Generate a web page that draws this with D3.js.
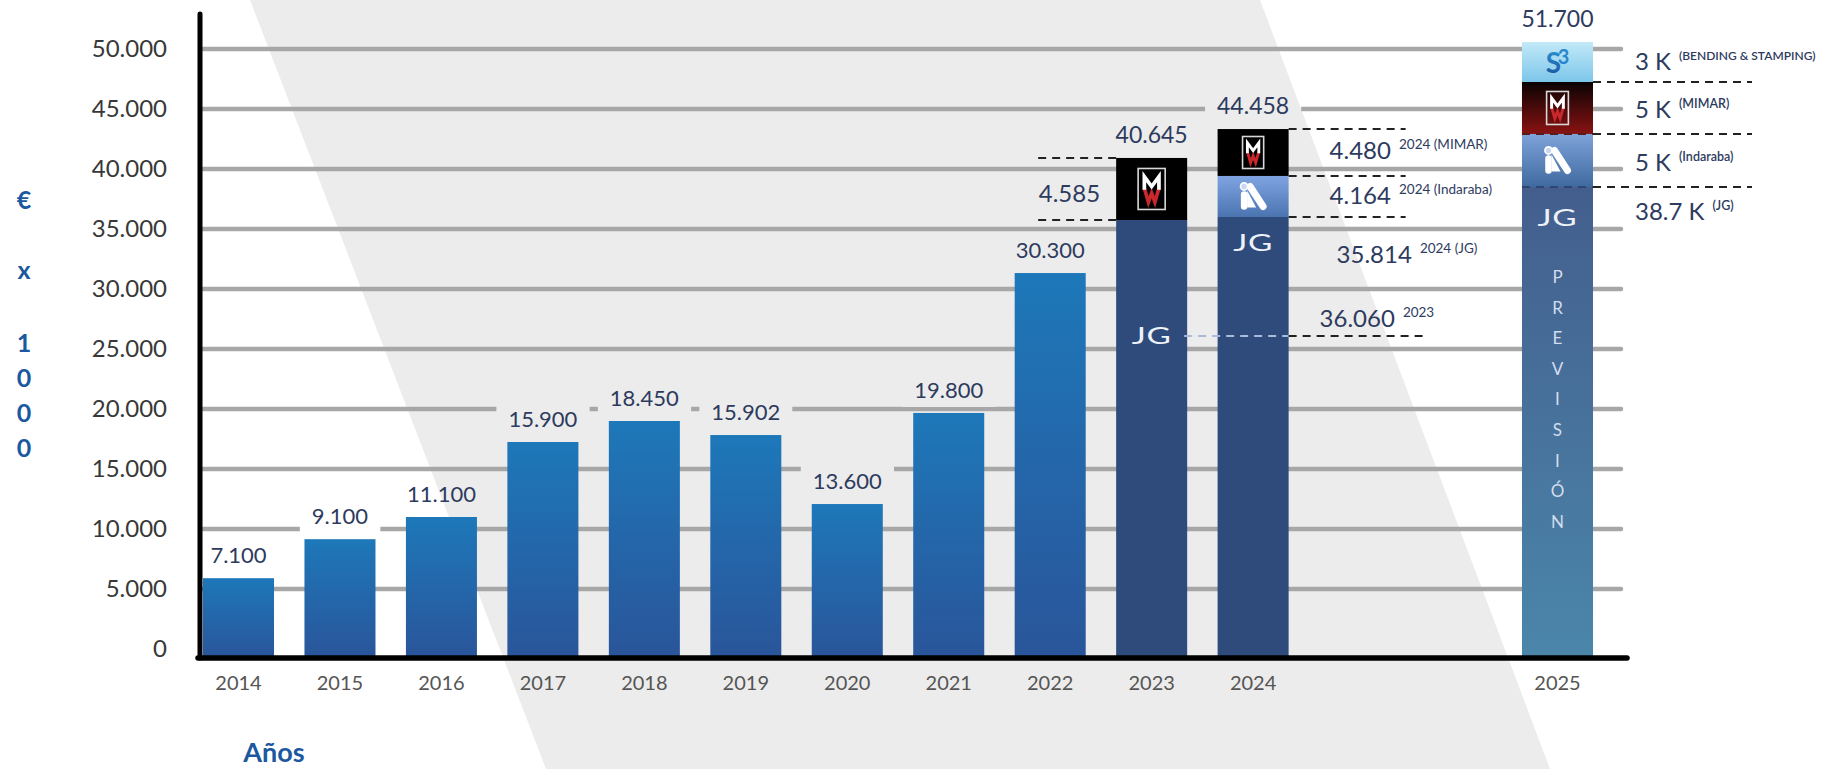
<!DOCTYPE html>
<html>
<head>
<meta charset="utf-8">
<script src="https://cdn.jsdelivr.net/npm/d3@7"></script>
<style>
  body { margin: 0; background: #fff; }
  text { font-family: "Lato", "Open Sans", sans-serif; }
</style>
</head>
<body>
<script>
// categories (two empty slots sit between 2024 and 2025)
const slots = ['2014', '2015', '2016', '2017', '2018', '2019', '2020', '2021', '2022', '2023', '2024', 'gap1', 'gap2', '2025'];
const yearTicks = ['2014', '2015', '2016', '2017', '2018', '2019', '2020', '2021', '2022', '2023', '2024', '2025'];
const yTicks = [0, 5000, 10000, 15000, 20000, 25000, 30000, 35000, 40000, 45000, 50000];

// single bars, heights as drawn in the picture, and their printed labels
const singleYears = ['2014', '2015', '2016', '2017', '2018', '2019', '2020', '2021', '2022'];
const singleValues = [5900, 9150, 11000, 17250, 19000, 17830, 12080, 19670, 31330];
const singleLabels = ['7.100', '9.100', '11.100', '15.900', '18.450', '15.902', '13.600', '19.800', '30.300'];

// stacked bars
const stackYears = ['2023', '2024', '2025'];
const jgValues = [35750, 36000, 38500];
const indarabaValues = [0, 3420, 4420];
const mimarValues = [5170, 3910, 4330];
const s3Values = [0, 0, 3330];
const stackLabels = ['40.645', '44.458', '51.700'];

// side notes
const note2023 = '4.585';
const notes2024 = ['4.480', '4.164', '35.814'];
const notes2024Sup = ['2024 (MIMAR)', '2024 (Indaraba)', '2024 (JG)'];
const noteJg2023 = '36.060';
const noteJg2023Sup = '2023';
const notes2025 = ['3 K', '5 K', '5 K', '38.7 K'];
const notes2025Sup = ['(BENDING & STAMPING)', '(MIMAR)', '(Indaraba)', '(JG)'];

const W = 1835, H = 769;
const axisY = 658, axisX = 200, gridEnd = 1621;
const navy = '#2d3b5e';

const svg = d3.select('body').append('svg').attr('width', W).attr('height', H);
const defs = svg.append('defs');

function vGrad(id, top, bottom) {
    const g = defs.append('linearGradient').attr('id', id)
        .attr('x1', 0).attr('y1', 0).attr('x2', 0).attr('y2', 1);
    g.append('stop').attr('offset', '0%').attr('stop-color', top);
    g.append('stop').attr('offset', '100%').attr('stop-color', bottom);
}
vGrad('g-bar', '#1d78b9', '#2a559a');
vGrad('g-ind24', '#80a4e2', '#4a74b0');
vGrad('g-ind25', '#7ea3da', '#3f6a9f');
vGrad('g-mim25', '#0a0303', '#8a1212');
vGrad('g-s3', '#c2e9f8', '#7cc6ea');
vGrad('g-jg25', '#435e8d', '#4b86aa');
vGrad('g-s3logo', '#2a9ad8', '#1c4f9c');

const x = d3.scaleBand().domain(slots).range([203, 1593]).paddingInner(0.3).paddingOuter(0);
const y = d3.scaleLinear().domain([0, 50000]).range([649, 49]);
const bw = x.bandwidth();

const fmt = d3.formatLocale({ decimal: ',', thousands: '.', grouping: [3], currency: ['', '€'] }).format(',');

// diagonal grey band in the background
svg.append('polygon')
    .attr('points', '250,0 1260,0 1550,769 546,769')
    .attr('fill', '#ececec');

// gridlines (masked behind some labels)
const mask = defs.append('mask').attr('id', 'gridMask')
    .attr('maskUnits', 'userSpaceOnUse').attr('x', 0).attr('y', 0).attr('width', W).attr('height', H);
mask.append('rect').attr('width', W).attr('height', H).attr('fill', '#fff');

svg.append('g').attr('mask', 'url(#gridMask)')
    .selectAll('line').data(yTicks.filter(d => d > 0)).join('line')
    .attr('x1', axisX).attr('x2', gridEnd)
    .attr('y1', d => y(d)).attr('y2', d => y(d))
    .attr('stroke', '#a7a7a7').attr('stroke-width', 4.5).attr('stroke-linecap', 'round');

// y tick labels
const yAxis = svg.append('g').attr('transform', 'translate(176,0)')
    .call(d3.axisLeft(y).tickValues(yTicks).tickSize(0).tickPadding(9).tickFormat(fmt));
yAxis.select('.domain').remove();
yAxis.selectAll('text').attr('font-size', 24).attr('fill', '#383838')
    .style('font-family', '"Lato", "Open Sans", sans-serif');

// x tick labels
const xAxis = svg.append('g').attr('transform', `translate(0,${axisY + 10})`)
    .call(d3.axisBottom(x).tickValues(yearTicks).tickSize(0).tickPadding(8));
xAxis.select('.domain').remove();
xAxis.selectAll('text').attr('font-size', 20).attr('fill', '#555')
    .style('font-family', '"Lato", "Open Sans", sans-serif');

// single bars
const singles = singleYears.map((yr, i) => ({ year: yr, value: singleValues[i], label: singleLabels[i] }));
svg.append('g').selectAll('rect').data(singles).join('rect')
    .attr('x', d => x(d.year)).attr('y', d => y(d.value))
    .attr('width', bw).attr('height', d => axisY - y(d.value))
    .attr('fill', 'url(#g-bar)');

const cutLabels = [];
svg.append('g').selectAll('text').data(singles).join('text')
    .attr('x', d => x(d.year) + bw / 2).attr('y', d => y(d.value) - 15)
    .attr('text-anchor', 'middle').attr('font-size', 22).attr('fill', navy)
    .text(d => d.label)
    .each(function () { cutLabels.push(this); });

// stacked bars
const keys = ['jg', 'indaraba', 'mimar', 's3'];
const rows = stackYears.map((yr, i) => ({
    year: yr, jg: jgValues[i], indaraba: indarabaValues[i], mimar: mimarValues[i], s3: s3Values[i]
}));
const series = d3.stack().keys(keys)(rows);

const fills = {
    jg: { '2023': '#2f4b7c', '2024': '#2f4b7c', '2025': 'url(#g-jg25)' },
    indaraba: { '2024': 'url(#g-ind24)', '2025': 'url(#g-ind25)' },
    mimar: { '2023': '#000', '2024': '#000', '2025': 'url(#g-mim25)' },
    s3: { '2025': 'url(#g-s3)' }
};

const segs = [];
series.forEach(s => {
    s.forEach(d => {
        if (d[1] - d[0] <= 0) return;
        segs.push({ key: s.key, year: d.data.year, y0: d[0], y1: d[1] });
    });
});

const stackG = svg.append('g');
stackG.selectAll('rect').data(segs).join('rect')
    .attr('x', d => x(d.year)).attr('y', d => y(d.y1))
    .attr('width', bw)
    .attr('height', d => (d.y0 === 0 ? axisY : y(d.y0)) - y(d.y1))
    .attr('fill', d => fills[d.key][d.year]);

function seg(key, year) {
    return segs.find(s => s.key === key && s.year === year);
}

// totals above stacks
stackYears.forEach((yr, i) => {
    const top = jgValues[i] + indarabaValues[i] + mimarValues[i] + s3Values[i];
    svg.append('text')
        .attr('x', x(yr) + bw / 2).attr('y', y(top) - 15)
        .attr('text-anchor', 'middle').attr('font-size', 23).attr('fill', navy)
        .text(stackLabels[i])
        .each(function () { cutLabels.push(this); });
});

// logos
const logoG = svg.append('g');

function drawJG(cx, cy, size) {
    logoG.append('g').attr('transform', `translate(${cx},${cy}) scale(1.45,1)`)
        .append('text').attr('x', 0).attr('y', size * 0.36)
        .attr('text-anchor', 'middle').attr('font-size', size).attr('font-weight', 400)
        .attr('letter-spacing', 0.5).attr('fill', '#eef2f8').text('JG');
}

function drawMimar(cx, cy, h) {
    const w = h * 0.66;
    const g = logoG.append('g').attr('transform', `translate(${cx},${cy})`);
    g.append('rect').attr('x', -w / 2).attr('y', -h / 2).attr('width', w).attr('height', h)
        .attr('fill', 'none').attr('stroke', '#d8d8d8').attr('stroke-width', 1.6);
    const m = [[-0.27 * w, 0.02 * h], [-0.27 * w, -0.3 * h], [0, -0.06 * h], [0.27 * w, -0.3 * h], [0.27 * w, 0.02 * h]];
    const ww = [[-0.27 * w, -0.02 * h], [-0.12 * w, 0.32 * h], [0, 0.1 * h], [0.12 * w, 0.32 * h], [0.27 * w, -0.02 * h]];
    g.append('path').attr('d', d3.line()(ww)).attr('fill', 'none')
        .attr('stroke', '#c8282c').attr('stroke-width', h * 0.09);
    g.append('path').attr('d', d3.line()(m)).attr('fill', 'none')
        .attr('stroke', '#fff').attr('stroke-width', h * 0.09);
}

function drawIA(cx, cy, s) {
    const g = logoG.append('g').attr('transform', `translate(${cx},${cy}) scale(${s})`);
    g.append('line').attr('x1', -9).attr('y1', -2).attr('x2', -9).attr('y2', 10)
        .attr('stroke', '#fff').attr('stroke-width', 6.5).attr('stroke-linecap', 'round');
    g.append('circle').attr('cx', -9).attr('cy', -10).attr('r', 3.6)
        .attr('fill', '#c9d8f2').attr('stroke', '#fff').attr('stroke-width', 1.6);
    g.append('line').attr('x1', -3).attr('y1', -10).attr('x2', 10).attr('y2', 10)
        .attr('stroke', '#fff').attr('stroke-width', 7).attr('stroke-linecap', 'round');
    g.append('path').attr('d', 'M-6,-6 L-6,11 L3,11 Z').attr('fill', '#fff');
}

function drawS3(cx, cy) {
    logoG.append('text').attr('x', cx - 4).attr('y', cy + 11).attr('text-anchor', 'middle')
        .attr('font-size', 28).attr('font-weight', 700).attr('fill', 'url(#g-s3logo)').text('S');
    logoG.append('text').attr('x', cx + 6).attr('y', cy + 2).attr('text-anchor', 'middle')
        .attr('font-size', 20).attr('font-weight', 700).attr('fill', '#2a86cc').text('3');
}

const mid = d => (y(d.y0) + y(d.y1)) / 2;

// 2023
const m23 = seg('mimar', '2023'), j23 = seg('jg', '2023');
drawMimar(x('2023') + bw / 2, mid(m23), 41);
const jg23Y = y(j23.y1) + 116;
drawJG(x('2023') + bw / 2, jg23Y, 23);

// 2024
const m24 = seg('mimar', '2024'), i24 = seg('indaraba', '2024'), j24 = seg('jg', '2024');
drawMimar(x('2024') + bw / 2, mid(m24), 32);
drawIA(x('2024') + bw / 2, mid(i24), 1.0);
drawJG(x('2024') + bw / 2, y(j24.y1) + 26, 23);

// 2025
const s25 = seg('s3', '2025'), m25 = seg('mimar', '2025'), i25 = seg('indaraba', '2025'), j25 = seg('jg', '2025');
drawS3(x('2025') + bw / 2, mid(s25));
drawMimar(x('2025') + bw / 2, mid(m25), 33);
drawIA(x('2025') + bw / 2, mid(i25), 1.0);
drawJG(x('2025') + bw / 2, y(j25.y1) + 31, 23);

'PREVISIÓN'.split('').forEach((ch, i) => {
    svg.append('text').attr('x', x('2025') + bw / 2).attr('y', y(j25.y1) + 90 + i * 30.6 + 6)
        .attr('text-anchor', 'middle').attr('font-size', 17).attr('font-weight', 400)
        .attr('fill', '#d2ddee').text(ch);
});

// dashed guide lines
const dashG = svg.append('g').attr('fill', 'none').attr('stroke-width', 2).attr('stroke-dasharray', '8,6');
function dash(x1, x2, yy, color) {
    dashG.append('line').attr('x1', x1).attr('x2', x2).attr('y1', yy).attr('y2', yy)
        .attr('stroke', color || '#222');
}
dash(x('2023') - 78, x('2023'), y(m23.y1));
dash(x('2023') - 78, x('2023'), y(m23.y0));
[m24.y1, m24.y0, i24.y0].forEach(v => dash(x('2024') + bw, x('2024') + bw + 117, y(v)));
[s25.y0, m25.y0, i25.y0].forEach(v => dash(x('2025') + bw, x('2025') + bw + 159, y(v)));
dash(x('2025'), x('2025') + bw, y(m25.y0), '#5a1a1a');
dash(x('2025'), x('2025') + bw, y(i25.y0), '#2f4770');
dash(x('2023') + bw - 3, x('2024') + bw, jg23Y, '#a9bbdc');
dash(x('2024') + bw, x('2024') + bw + 138, jg23Y);

// side notes
function note(xx, yy, main, sup, anchor, supSize, supWeight) {
    const t = svg.append('text').attr('x', xx).attr('y', yy)
        .attr('text-anchor', anchor || 'start').attr('fill', navy).attr('font-size', 24);
    t.append('tspan').text(main);
    if (sup) {
        t.append('tspan').attr('dx', 8).attr('dy', -10)
            .attr('font-size', supSize || 13.5).attr('font-weight', supWeight || 400).text(sup);
    }
    return t;
}
note(x('2023') - 16, mid(m23) + 13, note2023, null, 'end');
const r24 = x('2024') + bw;
note(r24 + 41, mid(m24) + 6, notes2024[0], notes2024Sup[0]);
note(r24 + 41, mid(i24) + 8, notes2024[1], notes2024Sup[1]);
note(r24 + 48, y(j24.y1) + 46, notes2024[2], notes2024Sup[2]);
note(r24 + 31, jg23Y - 9, noteJg2023, noteJg2023Sup);

const r25 = x('2025') + bw + 42;
note(r25, mid(s25) + 8, notes2025[0], notes2025Sup[0], 'start', 12, 600);
note(r25, mid(m25) + 10, notes2025[1], notes2025Sup[1], 'start', 12.5, 600);
note(r25, mid(i25) + 11, notes2025[2], notes2025Sup[2], 'start', 12.5, 600);
note(r25, y(j25.y1) + 33, notes2025[3], notes2025Sup[3], 'start', 12.5, 600);

// axis lines
svg.append('line').attr('x1', axisX).attr('x2', axisX).attr('y1', 14).attr('y2', axisY)
    .attr('stroke', '#000').attr('stroke-width', 5).attr('stroke-linecap', 'round');
svg.append('line').attr('x1', axisX - 2).attr('x2', 1627).attr('y1', axisY).attr('y2', axisY)
    .attr('stroke', '#000').attr('stroke-width', 5.5).attr('stroke-linecap', 'round');

// axis titles
const titleChars = ['€', 'x', '1', '0', '0', '0'];
const titleY = [200, 270, 343, 378, 413, 448];
titleChars.forEach((c, i) => {
    svg.append('text').attr('x', 24).attr('y', titleY[i] + 9).attr('text-anchor', 'middle')
        .attr('font-size', 25).attr('font-weight', 700).attr('fill', '#1b58a0').text(c);
});
svg.append('text').attr('x', 274).attr('y', 762).attr('text-anchor', 'middle')
    .attr('font-size', 27).attr('font-weight', 700).attr('fill', '#1b58a0').text('Años');

// cut gridlines behind bar labels
cutLabels.forEach(el => {
    const b = el.getBBox();
    mask.append('rect').attr('x', b.x - 12).attr('y', b.y - 4)
        .attr('width', b.width + 24).attr('height', b.height + 8).attr('fill', '#000');
});
</script>
</body>
</html>
